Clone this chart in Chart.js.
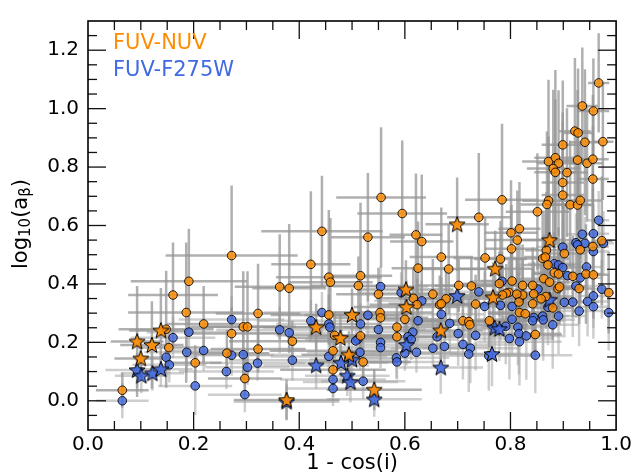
<!DOCTYPE html>
<html>
<head>
<meta charset="utf-8">
<script src="https://cdn.jsdelivr.net/npm/chart.js@4.4.1/dist/chart.umd.min.js"></script>
<style>
html,body{margin:0;padding:0;background:#fff;}
#wrap{width:635px;height:476px;}
</style>
</head>
<body>
<div id="wrap"><canvas id="c" width="635" height="476"></canvas></div>
<script>
// ---------------- data ----------------
const xTickVals = [0.0, 0.2, 0.4, 0.6, 0.8, 1.0];
const yTickVals = [0.0, 0.2, 0.4, 0.6, 0.8, 1.0, 1.2];
const seriesNames = ['FUV-NUV', 'FUV-F275W'];

// FUV-NUV circles
const nuvX = [0.272,0.191,0.161,0.186,0.219,0.322,0.148,0.153,0.203,0.065,
0.272,0.263,0.294,0.302,0.297,0.322,0.443,0.530,0.621,0.632,
0.669,0.422,0.625,0.456,0.459,0.516,0.512,0.363,0.381,0.550,
0.616,0.623,0.653,0.666,0.553,0.554,0.456,0.387,0.600,0.585,
0.585,0.467,0.516,0.464,0.521,0.464,0.801,0.817,0.813,0.802,
0.868,0.861,0.866,0.752,0.781,0.683,0.932,0.956,0.973,0.902,
0.871,0.883,0.891,0.918,0.943,0.957,0.930,0.986,0.863,0.874,
0.890,0.893,0.867,0.858,0.842,0.844,0.842,0.823,0.823,0.880,
0.803,0.779,0.797,0.812,0.816,0.792,0.785,0.726,0.702,0.678,
0.669,0.734,0.817,0.828,0.710,0.721,0.723,0.760,0.847,0.967,
0.936,0.957,0.922,0.928,0.899,0.941,0.975,0.872,0.885,0.891,
0.881,0.885,0.907,0.927,0.945,0.956,0.899,0.956,0.899,0.872,
0.869,0.913,0.927,0.932,0.851,0.784,0.740,0.555,0.595];
const nuvY = [0.497,0.409,0.362,0.302,0.263,0.299,0.245,0.182,0.130,0.036,
0.230,0.163,0.253,0.253,0.076,0.177,0.580,0.560,0.568,0.545,
0.492,0.467,0.454,0.423,0.406,0.428,0.394,0.390,0.385,0.365,
0.351,0.329,0.365,0.329,0.302,0.284,0.294,0.204,0.279,0.252,
0.219,0.224,0.222,0.171,0.133,0.106,0.575,0.589,0.550,0.520,
0.515,0.487,0.492,0.489,0.485,0.451,0.517,0.528,0.548,0.504,
0.465,0.438,0.434,0.426,0.434,0.431,0.384,0.370,0.418,0.406,
0.384,0.390,0.357,0.349,0.395,0.366,0.332,0.395,0.362,0.318,
0.410,0.401,0.371,0.365,0.338,0.368,0.362,0.393,0.395,0.349,
0.332,0.331,0.302,0.298,0.274,0.271,0.260,0.274,0.227,1.088,
1.009,0.992,0.923,0.917,0.876,0.885,0.887,0.819,0.832,0.813,
0.795,0.782,0.781,0.824,0.813,0.827,0.747,0.759,0.704,0.685,
0.672,0.671,0.670,0.686,0.647,0.688,0.628,0.696,0.641];
const nuvXerr = [0.125,0.11,0.085,0.11,0.07,0.08,0.09,0.06,0.05,0.05,
0.09,0.08,0.10,0.08,0.07,0.09,0.115,0.07,0.05,0.06,
0.06,0.075,0.05,0.10,0.08,0.06,0.09,0.085,0.07,0.08,
0.07,0.09,0.06,0.08,0.10,0.09,0.11,0.12,0.08,0.10,
0.09,0.11,0.10,0.12,0.09,0.10,0.05,0.04,0.06,0.05,
0.04,0.05,0.04,0.06,0.05,0.07,0.03,0.03,0.02,0.04,
0.05,0.04,0.05,0.04,0.03,0.03,0.03,0.01,0.05,0.04,
0.04,0.05,0.05,0.06,0.06,0.05,0.07,0.06,0.07,0.04,
0.06,0.07,0.06,0.05,0.06,0.07,0.08,0.07,0.08,0.09,
0.10,0.07,0.06,0.07,0.10,0.09,0.11,0.08,0.05,0.02,
0.03,0.03,0.03,0.03,0.04,0.03,0.02,0.05,0.04,0.04,
0.05,0.04,0.04,0.03,0.03,0.03,0.04,0.03,0.04,0.05,
0.05,0.04,0.03,0.04,0.06,0.07,0.06,0.085,0.085];
const nuvYerr = [0.24,0.18,0.18,0.24,0.13,0.17,0.20,0.07,0.06,0.06,
0.09,0.08,0.19,0.19,0.07,0.08,0.19,0.22,0.21,0.23,
0.17,0.25,0.16,0.23,0.22,0.25,0.10,0.18,0.22,0.09,
0.10,0.09,0.12,0.10,0.08,0.09,0.07,0.07,0.10,0.08,
0.08,0.08,0.09,0.07,0.08,0.07,0.18,0.16,0.17,0.15,
0.20,0.16,0.15,0.14,0.13,0.155,0.18,0.20,0.22,0.17,
0.15,0.14,0.16,0.14,0.17,0.15,0.12,0.14,0.15,0.14,
0.12,0.13,0.11,0.12,0.13,0.11,0.12,0.14,0.12,0.11,
0.12,0.11,0.11,0.12,0.10,0.10,0.10,0.10,0.09,0.10,
0.09,0.10,0.10,0.09,0.08,0.08,0.07,0.09,0.08,0.17,
0.20,0.18,0.25,0.22,0.22,0.25,0.20,0.28,0.30,0.25,
0.27,0.25,0.22,0.24,0.20,0.22,0.24,0.18,0.25,0.22,
0.25,0.22,0.24,0.20,0.20,0.26,0.22,0.24,0.25];

// FUV-NUV stars
const nuvStarX = [0.138,0.093,0.121,0.100,0.602,0.603,0.500,0.432,0.668,0.478,0.494,0.542,0.376,0.874,0.771,0.767,0.699];
const nuvStarY = [0.241,0.203,0.191,0.145,0.381,0.321,0.294,0.252,0.241,0.215,0.158,0.038,0.003,0.550,0.452,0.354,0.604];
const nuvStarXerr = [0.06,0.05,0.06,0.05,0.09,0.10,0.09,0.10,0.08,0.10,0.09,0.09,0.10,0.05,0.07,0.08,0.06];
const nuvStarYerr = [0.145,0.19,0.15,0.07,0.10,0.09,0.09,0.08,0.10,0.08,0.08,0.07,0.07,0.15,0.13,0.12,0.16];

// FUV-F275W circles
const f275X = [0.272,0.191,0.161,0.148,0.154,0.187,0.219,0.203,0.065,0.262,
0.272,0.294,0.302,0.297,0.321,0.554,0.593,0.632,0.669,0.530,
0.443,0.422,0.456,0.458,0.363,0.381,0.516,0.550,0.625,0.615,
0.606,0.612,0.661,0.511,0.507,0.554,0.554,0.600,0.622,0.653,
0.675,0.584,0.585,0.515,0.456,0.464,0.464,0.521,0.387,0.936,
0.957,0.899,0.924,0.941,0.927,0.957,0.976,0.883,0.891,0.899,
0.944,0.908,0.932,0.924,0.973,0.957,0.946,0.957,0.930,0.918,
0.902,0.986,0.852,0.871,0.784,0.740,0.751,0.781,0.803,0.817,
0.844,0.861,0.862,0.842,0.891,0.880,0.803,0.791,0.685,0.814,
0.816,0.830,0.798,0.817,0.701,0.734,0.710,0.724,0.721,0.759,
0.847,0.967];
const f275Y = [0.278,0.235,0.216,0.149,0.123,0.166,0.172,0.051,0.000,0.100,
0.156,0.158,0.115,0.021,0.129,0.391,0.370,0.342,0.296,0.293,
0.302,0.274,0.263,0.252,0.243,0.233,0.263,0.244,0.274,0.235,
0.219,0.210,0.219,0.211,0.205,0.200,0.182,0.163,0.166,0.180,
0.186,0.147,0.133,0.166,0.152,0.073,0.042,0.067,0.139,0.570,
0.572,0.526,0.541,0.539,0.534,0.511,0.539,0.469,0.465,0.456,
0.458,0.428,0.421,0.393,0.382,0.359,0.340,0.322,0.307,0.338,
0.337,0.302,0.382,0.320,0.409,0.373,0.323,0.327,0.323,0.351,
0.285,0.290,0.277,0.274,0.290,0.260,0.279,0.255,0.265,0.252,
0.230,0.222,0.213,0.202,0.230,0.224,0.193,0.180,0.160,0.154,
0.156,0.618];
const f275Xerr = [0.10,0.08,0.08,0.06,0.07,0.08,0.07,0.07,0.05,0.09,
0.08,0.09,0.08,0.07,0.09,0.09,0.08,0.09,0.08,0.10,
0.11,0.10,0.10,0.09,0.12,0.10,0.10,0.09,0.08,0.09,
0.10,0.09,0.08,0.10,0.09,0.10,0.09,0.10,0.09,0.08,
0.09,0.10,0.09,0.10,0.11,0.10,0.09,0.08,0.12,0.03,
0.03,0.05,0.04,0.03,0.04,0.03,0.02,0.05,0.04,0.05,
0.03,0.05,0.04,0.05,0.02,0.03,0.04,0.03,0.05,0.05,
0.06,0.01,0.06,0.05,0.06,0.08,0.07,0.07,0.06,0.06,
0.06,0.05,0.06,0.06,0.05,0.05,0.07,0.08,0.09,0.07,
0.08,0.07,0.08,0.08,0.09,0.08,0.10,0.09,0.10,0.09,
0.07,0.02];
const f275Yerr = [0.08,0.07,0.07,0.06,0.06,0.07,0.07,0.10,0.06,0.06,
0.07,0.07,0.06,0.06,0.06,0.07,0.07,0.07,0.06,0.07,
0.07,0.07,0.06,0.07,0.08,0.07,0.07,0.06,0.07,0.06,
0.06,0.07,0.06,0.07,0.06,0.06,0.07,0.06,0.07,0.06,
0.06,0.07,0.06,0.06,0.06,0.06,0.06,0.06,0.07,0.10,
0.10,0.09,0.10,0.09,0.09,0.10,0.11,0.10,0.09,0.10,
0.10,0.11,0.10,0.11,0.10,0.11,0.12,0.11,0.12,0.12,
0.12,0.13,0.11,0.13,0.10,0.11,0.12,0.12,0.13,0.12,
0.14,0.13,0.14,0.13,0.13,0.15,0.12,0.13,0.10,0.13,
0.14,0.15,0.14,0.15,0.11,0.12,0.12,0.12,0.13,0.12,
0.13,0.10];

// FUV-F275W stars
const f275StarX = [0.093,0.101,0.122,0.138,0.603,0.500,0.479,0.491,0.497,0.432,0.542,0.668,0.874,0.699,0.770,0.779,0.765,0.376];
const f275StarY = [0.105,0.086,0.094,0.108,0.191,0.141,0.130,0.086,0.064,0.121,0.005,0.114,0.346,0.359,0.250,0.246,0.160,-0.003];
const f275StarXerr = [0.06,0.05,0.06,0.06,0.08,0.08,0.09,0.08,0.09,0.10,0.09,0.08,0.05,0.08,0.07,0.07,0.08,0.10];
const f275StarYerr = [0.06,0.06,0.06,0.06,0.07,0.07,0.07,0.07,0.07,0.08,0.06,0.09,0.10,0.09,0.11,0.11,0.11,0.06];

// ---------------- helpers ----------------
const zip = (xs, ys) => xs.map((v, i) => ({x: v, y: ys[i]}));
const ORANGE = 'rgba(255,140,0,0.8)';
const BLUE = 'rgba(65,105,225,0.8)';

function makeStar(fill) {
  const c = document.createElement('canvas');
  c.width = 22; c.height = 22;
  const g = c.getContext('2d');
  const R = 8.4, r = R * 0.42, cx = 11, cy = 11.6;
  g.beginPath();
  for (let k = 0; k < 10; k++) {
    const rad = (k % 2 === 0) ? R : r;
    const a = -Math.PI / 2 + k * Math.PI / 5;
    const px = cx + rad * Math.cos(a), py = cy + rad * Math.sin(a);
    if (k === 0) g.moveTo(px, py); else g.lineTo(px, py);
  }
  g.closePath();
  g.fillStyle = fill; g.fill();
  g.lineWidth = 1; g.strokeStyle = '#000'; g.lineJoin = 'miter'; g.stroke();
  return c;
}

const errPlugin = {
  id: 'errbars',
  beforeDatasetsDraw(chart) {
    const {ctx, chartArea: a, scales: {x, y}} = chart;
    ctx.save();
    ctx.beginPath(); ctx.rect(a.left, a.top, a.right - a.left, a.bottom - a.top); ctx.clip();
    ctx.lineWidth = 2.5; ctx.lineCap = 'butt';
    [3, 2, 1, 0].forEach(i => {
      const ds = chart.data.datasets[i];
      ctx.strokeStyle = ds.errColor;
      ds.data.forEach((p, k) => {
        const px = x.getPixelForValue(p.x), py = y.getPixelForValue(p.y);
        const x0 = x.getPixelForValue(p.x - ds.errX[k]), x1 = x.getPixelForValue(p.x + ds.errX[k]);
        const y0 = y.getPixelForValue(p.y - ds.errY[k]), y1 = y.getPixelForValue(p.y + ds.errY[k]);
        ctx.beginPath();
        ctx.moveTo(x0, py); ctx.lineTo(x1, py);
        ctx.moveTo(px, y0); ctx.lineTo(px, y1);
        ctx.stroke();
      });
    });
    ctx.restore();
  },
  afterDraw(chart) {
    const {ctx, chartArea: a, scales: {x, y}} = chart;
    ctx.save();
    // ticks on all four sides (inward)
    ctx.strokeStyle = '#111'; ctx.lineWidth = 1.3;
    const MAJ = 18, MIN = 9;
    const line = (x0, y0, x1, y1) => { ctx.beginPath(); ctx.moveTo(x0, y0); ctx.lineTo(x1, y1); ctx.stroke(); };
    const isMajor = (v, arr) => arr.some(t => Math.abs(t - v) < 1e-6);
    for (let k = 1; k < 20; k++) {
      const v = k * 0.05;
      const px = x.getPixelForValue(v);
      const L = isMajor(v, xTickVals) ? MAJ : MIN;
      line(px, a.bottom, px, a.bottom - L);
      line(px, a.top, px, a.top + L);
    }
    for (let k = -1; k <= 25; k++) {
      const v = k * 0.05;
      const py = y.getPixelForValue(v);
      const L = isMajor(v, yTickVals) ? MAJ : MIN;
      line(a.left, py, a.left + L, py);
      line(a.right, py, a.right - L, py);
    }
    // frame
    ctx.lineWidth = 1.6; ctx.strokeStyle = '#000';
    ctx.strokeRect(a.left, a.top, a.right - a.left, a.bottom - a.top);
    // legend texts
    ctx.font = '21px "DejaVu Sans"';
    ctx.textAlign = 'left'; ctx.textBaseline = 'alphabetic';
    ctx.fillStyle = '#ff8c00'; ctx.fillText(seriesNames[0], 113, 49);
    ctx.fillStyle = '#4169e1'; ctx.fillText(seriesNames[1], 113, 76);
    // x title
    ctx.fillStyle = '#000';
    ctx.font = '21px "DejaVu Sans"';
    ctx.textAlign = 'center';
    ctx.fillText('1 - cos(i)', (a.left + a.right) / 2, 469);
    // y title with subscripts
    const segs = [
      {t: 'log', f: 21, d: 0},
      {t: '10', f: 15, d: 3},
      {t: '(a', f: 21, d: 0},
      {t: 'β', f: 15, d: 3},
      {t: ')', f: 21, d: 0}
    ];
    let total = 0;
    segs.forEach(s => { ctx.font = s.f + 'px "DejaVu Sans"'; s.w = ctx.measureText(s.t).width; total += s.w; });
    ctx.translate(27, 224);
    ctx.rotate(-Math.PI / 2);
    ctx.textAlign = 'left';
    let cx = -total / 2;
    segs.forEach(s => { ctx.font = s.f + 'px "DejaVu Sans"'; ctx.fillText(s.t, cx, s.d); cx += s.w; });
    ctx.restore();
  }
};

const starOrange = makeStar('rgba(255,140,0,0.9)');
const starBlue = makeStar('rgba(65,105,225,0.9)');

const datasets = [
  {label: seriesNames[0] + ' stars', data: zip(nuvStarX, nuvStarY), errX: nuvStarXerr, errY: nuvStarYerr,
   errColor: 'rgba(150,150,150,0.75)', pointStyle: starOrange, order: 0},
  {label: seriesNames[0], data: zip(nuvX, nuvY), errX: nuvXerr, errY: nuvYerr,
   errColor: 'rgba(150,150,150,0.75)', pointStyle: 'circle', pointRadius: 4.3,
   backgroundColor: ORANGE, borderColor: 'rgba(0,0,0,0.85)', borderWidth: 1, order: 1},
  {label: seriesNames[1] + ' stars', data: zip(f275StarX, f275StarY), errX: f275StarXerr, errY: f275StarYerr,
   errColor: 'rgba(165,165,165,0.55)', pointStyle: starBlue, order: 2},
  {label: seriesNames[1], data: zip(f275X, f275Y), errX: f275Xerr, errY: f275Yerr,
   errColor: 'rgba(165,165,165,0.55)', pointStyle: 'circle', pointRadius: 4.3,
   backgroundColor: BLUE, borderColor: 'rgba(0,0,0,0.85)', borderWidth: 1, order: 3}
];

new Chart(document.getElementById('c'), {
  type: 'scatter',
  data: {datasets},
  plugins: [errPlugin],
  options: {
    responsive: false,
    animation: false,
    events: [],
    devicePixelRatio: 1,
    layout: {padding: {top: 7, right: 18, left: 0, bottom: 0}},
    plugins: {legend: {display: false}, tooltip: {enabled: false}},
    scales: {
      x: {
        type: 'linear', min: 0, max: 1,
        grid: {display: false, drawTicks: false},
        border: {display: false},
        afterFit: s => { s.height = 46; },
        afterBuildTicks: s => { s.ticks = xTickVals.map(v => ({value: v})); },
        ticks: {autoSkip: false, maxRotation: 0, padding: 3, color: '#000',
                font: {family: 'DejaVu Sans', size: 20},
                callback: v => Number(v).toFixed(1)}
      },
      y: {
        type: 'linear', min: -0.1, max: 1.3,
        grid: {display: false, drawTicks: false},
        border: {display: false},
        afterFit: s => { s.width = 88; },
        afterBuildTicks: s => { s.ticks = yTickVals.map(v => ({value: v})); },
        ticks: {autoSkip: false, padding: 9, color: '#000',
                font: {family: 'DejaVu Sans', size: 20},
                callback: v => Number(v).toFixed(1)}
      }
    }
  }
});
</script>
</body>
</html>
